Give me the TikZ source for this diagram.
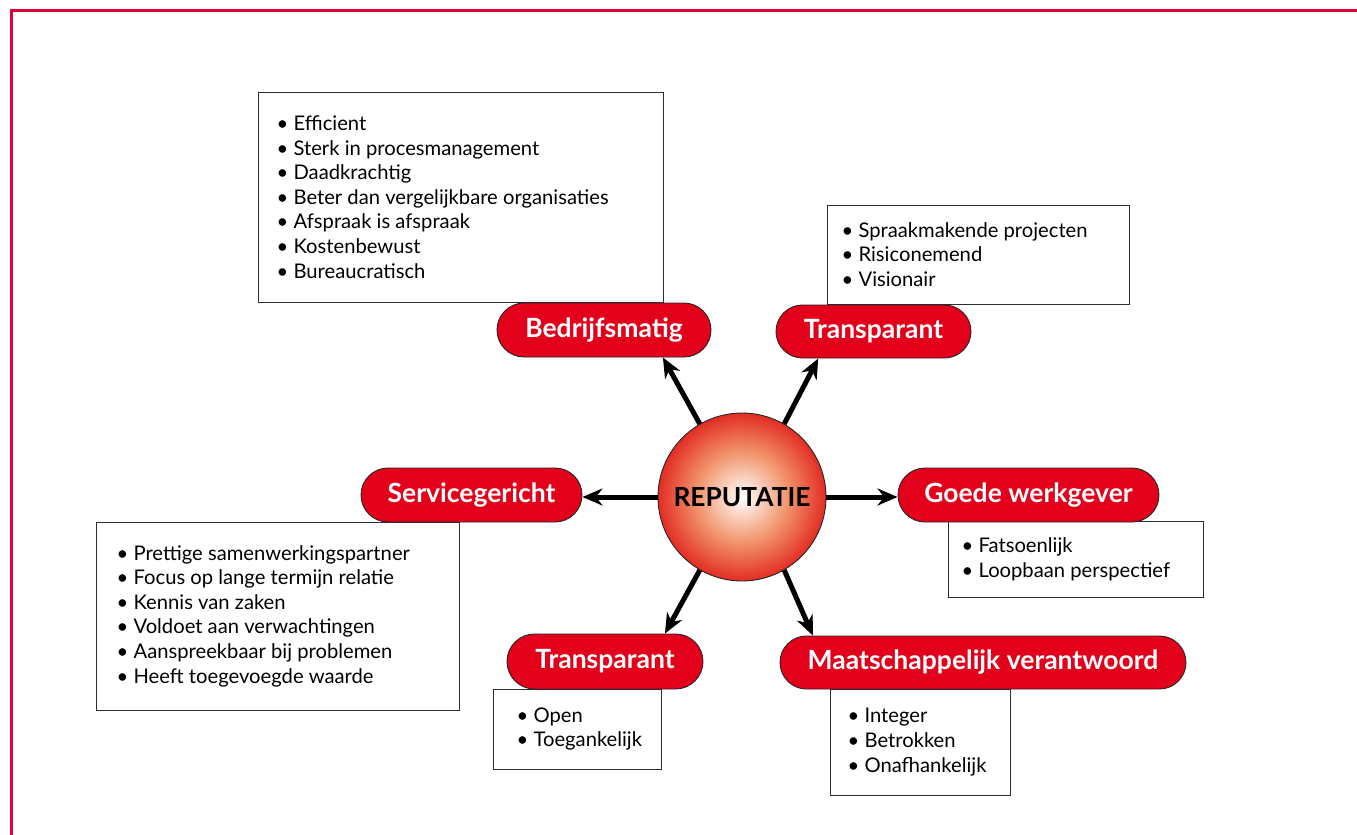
\documentclass[tikz,border=0pt]{standalone}
\usepackage{fontspec}
\setmainfont{Lato}
\usetikzlibrary{arrows.meta,shapes.misc}
\definecolor{repred}{RGB}{226,0,26}
\definecolor{framered}{RGB}{226,0,55}
\definecolor{boxgray}{RGB}{45,45,45}
\definecolor{repsalmon}{RGB}{242,152,112}
\definecolor{repedge}{RGB}{226,45,36}
\pgfdeclareradialshading{repball}{\pgfpoint{0bp}{0bp}}{color(0bp)=(white); color(13bp)=(repsalmon); color(25bp)=(repedge); color(50bp)=(repedge)}
\tikzset{
  pill/.style={rounded rectangle, draw=black!85, line width=0.9pt, fill=repred, text=white,
    font=\fontsize{26.5}{30}\selectfont\bfseries, minimum height=54pt, inner sep=0pt},
  listbox/.style={rectangle, draw=boxgray, line width=1pt, fill=white, inner sep=0pt},
  listtext/.style={anchor=west, align=left, inner sep=0pt, font=\fontsize{20.2}{24.6}\selectfont},
  spoke/.style={->, line width=5pt}
}
\begin{document}
\begin{tikzpicture}[line cap=butt,line join=miter,x=1pt,y=-1pt,>={Stealth[length=20pt,width=17pt]}]
\useasboundingbox (0,0) rectangle (1357,835);
\draw [framered, line width=3pt] (11,835) -- (11,10) -- (1357,10);

\node [listbox, minimum width=405pt, minimum height=210pt] (bedrijfbox) at (460.5,197) {};
\node [listtext] (bedrijftext) at ([xshift=19pt]bedrijfbox.west) {\textbullet\ Efficient\\ \textbullet\ Sterk in procesmanagement\\ \textbullet\ Daadkrachtig\\ \textbullet\ Beter dan vergelijkbare organisaties\\ \textbullet\ Afspraak is afspraak\\ \textbullet\ Kostenbewust\\ \textbullet\ Bureaucratisch};
\node [listbox, minimum width=302pt, minimum height=99pt] (transbox) at (978,254.5) {};
\node [listtext] (transtext) at ([xshift=15pt]transbox.west) {\textbullet\ Spraakmakende projecten\\ \textbullet\ Risiconemend\\ \textbullet\ Visionair};
\node [listbox, minimum width=363pt, minimum height=188pt] (servicebox) at (277.5,616) {};
\node [listtext] (servicetext) at ([xshift=21pt]servicebox.west) {\textbullet\ Prettige samenwerkingspartner\\ \textbullet\ Focus op lange termijn relatie\\ \textbullet\ Kennis van zaken\\ \textbullet\ Voldoet aan verwachtingen\\ \textbullet\ Aanspreekbaar bij problemen\\ \textbullet\ Heeft toegevoegde waarde};
\node [listbox, minimum width=255pt, minimum height=76pt] (goedebox) at (1075.5,559) {};
\node [listtext] (goedetext) at ([xshift=14pt]goedebox.west) {\textbullet\ Fatsoenlijk\\ \textbullet\ Loopbaan perspectief};
\node [listbox, minimum width=168pt, minimum height=80pt] (openbox) at (577,729) {};
\node [listtext] (opentext) at ([xshift=24pt]openbox.west) {\textbullet\ Open\\ \textbullet\ Toegankelijk};
\node [listbox, minimum width=180pt, minimum height=106pt] (maatbox) at (920,742) {};
\node [listtext] (maattext) at ([xshift=18pt]maatbox.west) {\textbullet\ Integer\\ \textbullet\ Betrokken\\ \textbullet\ Onafhankelijk};

\node [pill, minimum width=214pt] (bedrijf) at (604,330) {Bedrijfsmatig};
\node [pill, minimum width=195pt, minimum height=53pt] (trans) at (873.5,331.5) {Transparant};
\node [pill, minimum width=221pt] (service) at (471.5,495) {Servicegericht};
\node [pill, minimum width=261pt] (goede) at (1028.5,495) {Goede werkgever};
\node [pill, minimum width=196pt, minimum height=55pt] (open) at (605,661.5) {Transparant};
\node [pill, minimum width=406pt, minimum height=53pt] (maat) at (983,662.5) {Maatschappelijk verantwoord};

\node [circle, draw=black!85, line width=0.9pt, shading=repball, minimum size=168pt, inner sep=0pt, font=\fontsize{26.3}{30}\selectfont\bfseries] (rep) at (742,497) {REPUTATIE};

\draw [spoke] (rep.120) -- (bedrijf.-25);
\draw [spoke] (rep.60) -- (trans.206);
\draw [spoke] (rep.west) -- (rep.west -| service.east);
\draw [spoke] (rep.east) -- (rep.east -| goede.west);
\draw [spoke] (rep.240) -- (open.25);
\draw [spoke] (rep.300) -- (maat.171);
\end{tikzpicture}
\end{document}
